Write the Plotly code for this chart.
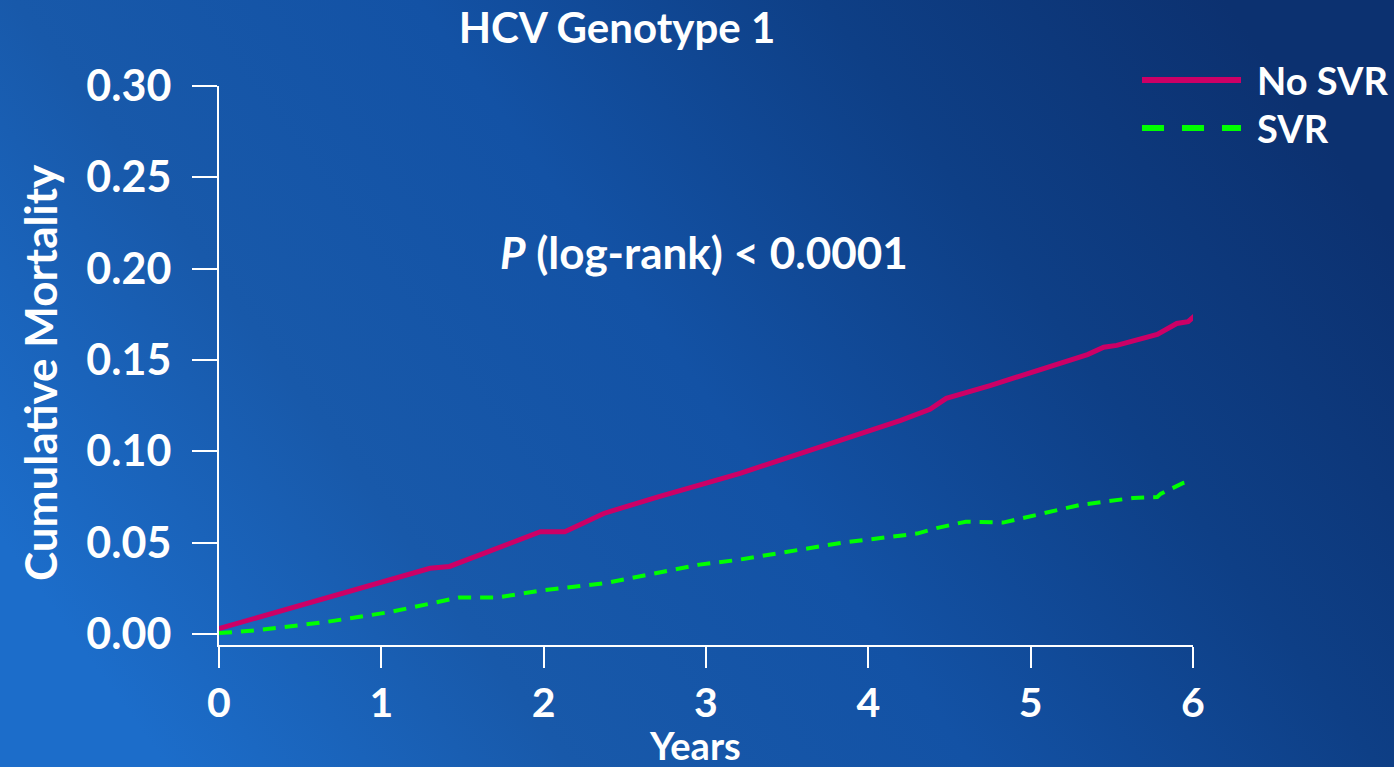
import base64
import plotly.graph_objects as go

# ---- data ----
years_no_svr = [0.0, 0.66, 1.30, 1.42, 1.98, 2.13, 2.37, 2.70, 3.21, 4.20, 4.38, 4.48, 4.75,
                5.35, 5.45, 5.53, 5.72, 5.78, 5.90, 5.97, 6.02]
mort_no_svr = [0.003, 0.020, 0.036, 0.037, 0.056, 0.056, 0.066, 0.075, 0.088, 0.117, 0.123, 0.129, 0.136,
               0.153, 0.157, 0.158, 0.163, 0.164, 0.170, 0.171, 0.175]

years_svr = [0.0, 0.23, 0.66, 1.05, 1.48, 1.71, 2.00, 2.39, 2.96, 3.19, 3.84, 4.30, 4.42, 4.60,
             4.83, 5.30, 5.63, 5.78, 5.80, 5.94, 6.0]
mort_svr = [0.0005, 0.002, 0.0066, 0.012, 0.020, 0.020, 0.024, 0.028, 0.038, 0.0405, 0.050, 0.055, 0.058,
            0.0615, 0.061, 0.0706, 0.0745, 0.075, 0.0767, 0.0827, 0.084]

series_names = ["No SVR", "SVR"]
y_ticks = [0.0, 0.05, 0.10, 0.15, 0.20, 0.25, 0.30]
x_ticks = [0, 1, 2, 3, 4, 5, 6]
x_title = "Years"
y_title = "Cumulative Mortality"

PINK = "#CC0066"
GREEN = "#00FF00"
FONT = "Lato"

W, H = 1394, 767
ML, MR, MT, MB = 219, 201, 86, 122
PW, PH = W - ML - MR, H - MT - MB

fig = go.Figure()
fig.add_trace(go.Scatter(x=years_no_svr, y=mort_no_svr, mode="lines", name=series_names[0],
                         line=dict(color=PINK, width=5), showlegend=False))
fig.add_trace(go.Scatter(x=years_svr, y=mort_svr, mode="lines", name=series_names[1],
                         line=dict(color=GREEN, width=4, dash="13px,9px"), showlegend=False))

# gradient background as an SVG image
svg = f'''<svg xmlns="http://www.w3.org/2000/svg" width="{W}" height="{H}" viewBox="0 0 {W} {H}" preserveAspectRatio="none">
<defs><linearGradient id="g" x1="0" y1="0.7" x2="1" y2="0.3">
<stop offset="0" stop-color="#1C6DCA"/>
<stop offset="0.25" stop-color="#1859AA"/>
<stop offset="0.5" stop-color="#1352A5"/>
<stop offset="0.75" stop-color="#0E3F86"/>
<stop offset="1" stop-color="#0C3170"/>
</linearGradient></defs>
<rect x="0" y="0" width="{W}" height="{H}" fill="url(#g)"/></svg>'''
src = "data:image/svg+xml;base64," + base64.b64encode(svg.encode()).decode()

def px_x(px):
    return (px - ML) / PW

def px_y(py):
    return (H - MB - py) / PH

fig.add_layout_image(dict(source=src, xref="paper", yref="paper",
                          x=px_x(0), y=px_y(0), sizex=W / PW, sizey=H / PH,
                          xanchor="left", yanchor="top", sizing="stretch", layer="below"))

white = "white"
fig.update_layout(
    width=W, height=H,
    margin=dict(l=ML, r=MR, t=MT, b=MB, autoexpand=False),
    paper_bgcolor="#1352A5",
    plot_bgcolor="rgba(0,0,0,0)",
    font=dict(family=FONT, color=white, weight="bold"),
    title=dict(text="HCV Genotype 1", x=617 / W, y=1 - 28 / H, xref="container", yref="container",
               xanchor="center", yanchor="middle",
               font=dict(family=FONT, size=42, color=white, weight="bold")),
    xaxis=dict(range=[0, 6], tickvals=x_ticks, showline=True, linecolor=white, linewidth=2,
               ticks="outside", ticklen=21, tickwidth=2, tickcolor=white, showgrid=False,
               zeroline=False, ticklabelstandoff=0, automargin=False,
               tickfont=dict(family=FONT, size=41, color=white, weight="bold")),
    yaxis=dict(range=[-0.006, 0.30], tickvals=y_ticks, tickformat=".2f", showline=True,
               linecolor=white, linewidth=2, ticks="outside", ticklen=25, tickwidth=2,
               tickcolor=white, showgrid=False, zeroline=False, ticklabelstandoff=12,
               automargin=False,
               tickfont=dict(family=FONT, size=43, color=white, weight="bold")),
)

# axis titles placed as in the reference
fig.add_annotation(text=x_title, xref="paper", yref="paper", x=px_x(695), y=px_y(745),
                   showarrow=False, xanchor="center", yanchor="middle",
                   font=dict(family=FONT, size=38, color=white, weight="bold"))
fig.add_annotation(text=y_title, xref="paper", yref="paper", x=px_x(40), y=px_y(373),
                   showarrow=False, xanchor="center", yanchor="middle", textangle=-90,
                   font=dict(family=FONT, size=44, color=white, weight="bold"))

# p-value annotation
fig.add_annotation(text="<i>P</i> (log-rank) &lt; 0.0001", xref="paper", yref="paper",
                   x=px_x(704), y=px_y(252), showarrow=False, xanchor="center", yanchor="middle",
                   font=dict(family=FONT, size=44, color=white, weight="bold"))

# legend (drawn manually to match the long sample lines)
leg_y = [80, 128]
fig.add_shape(type="line", xref="paper", yref="paper", x0=px_x(1142), x1=px_x(1241),
              y0=px_y(leg_y[0]), y1=px_y(leg_y[0]), line=dict(color=PINK, width=6))
fig.add_shape(type="line", xref="paper", yref="paper", x0=px_x(1142), x1=px_x(1241),
              y0=px_y(leg_y[1]), y1=px_y(leg_y[1]), line=dict(color=GREEN, width=6, dash="22px,18px"))
for name, ly in zip(series_names, leg_y):
    fig.add_annotation(text=name, xref="paper", yref="paper", x=px_x(1255), y=px_y(ly),
                       showarrow=False, xanchor="left", yanchor="middle",
                       font=dict(family=FONT, size=38, color=white, weight="bold"))

fig.write_html("out.html", config={"displayModeBar": False},
               post_script="document.body.style.margin='0';")
